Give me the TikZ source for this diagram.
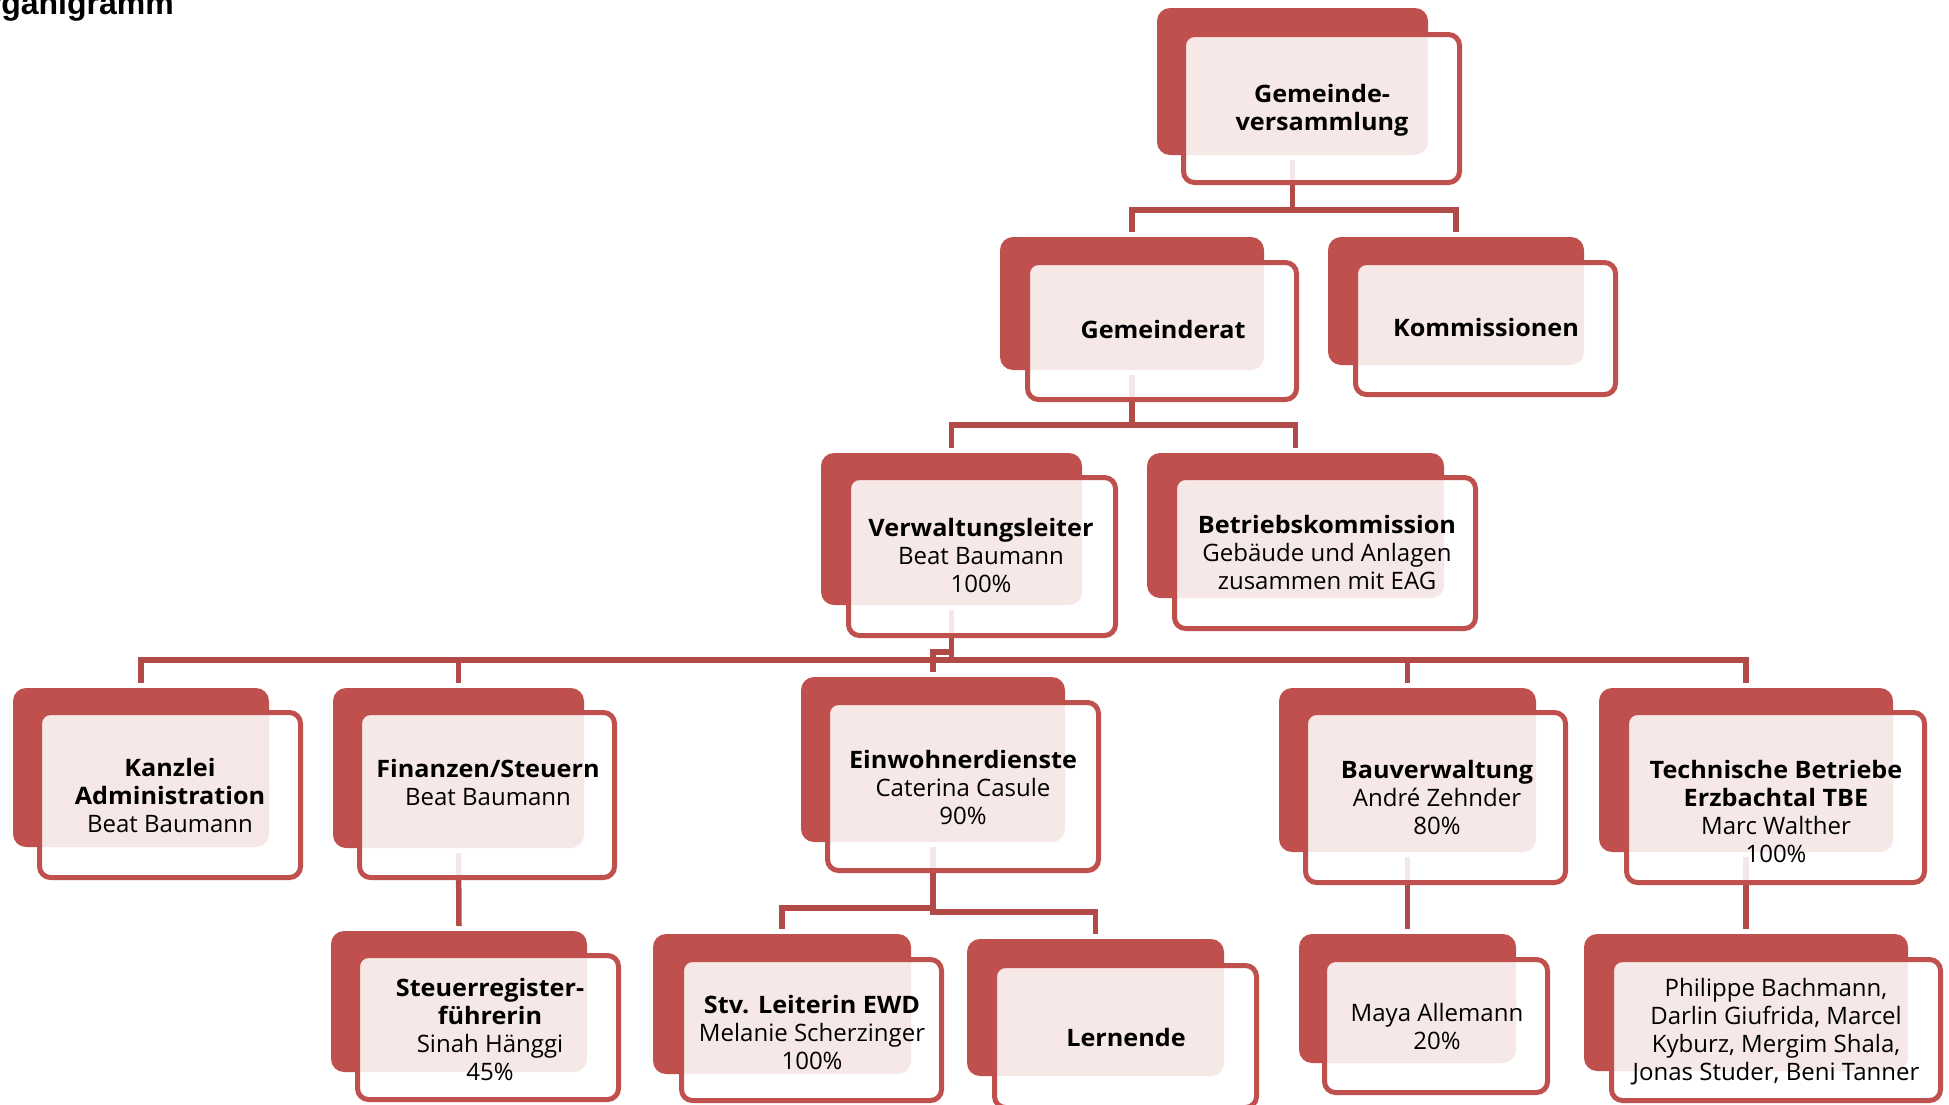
\documentclass[tikz,border=0pt]{standalone}
\usepackage{fontspec}
\setmainfont{Open Sans}[BoldFeatures={FakeStretch=1.05}]
\newfontfamily\titlefont{Liberation Sans}
\usetikzlibrary{calc}
\definecolor{boxred}{HTML}{C0504D}
\definecolor{linered}{HTML}{B24B48}
\pgfdeclarelayer{bg}
\pgfsetlayers{bg,main}
\tikzset{
  backbox/.style={rectangle, rounded corners=13pt, fill=boxred, inner sep=0pt, outer sep=0pt},
  frontbox/.style={rectangle, rounded corners=11pt, fill=white, fill opacity=0.87, draw=boxred, draw opacity=1, line width=5pt, inner sep=0pt, outer sep=0pt},
  boxtext/.style={align=center, inner sep=0pt, text=black, font=\fontsize{24}{28}\selectfont},
  conn/.style={draw=linered, line width=5.5pt},
}
\def\orgback#1,#2,#3,#4\relax{\pgfmathsetmacro\ocx{(#1+#3)/2}\pgfmathsetmacro\ocy{(#2+#4)/2}\pgfmathsetmacro\ow{#3-#1}\pgfmathsetmacro\oh{#4-#2}}
\def\orgfront#1,#2,#3,#4\relax{\pgfmathsetmacro\fcx{(#1+#3)/2}\pgfmathsetmacro\fcy{(#2+#4)/2}\pgfmathsetmacro\fw{#3-#1-5}\pgfmathsetmacro\fh{#4-#2-5}}
\newcommand\orgunit[5]{%
  \orgback#2\relax
  \orgfront#3\relax
  \node[backbox, minimum width=\ow pt, minimum height=\oh pt] (#1B) at (\ocx,\ocy) {};
  \node[frontbox, minimum width=\fw pt, minimum height=\fh pt] (#1F) at (\fcx,\fcy) {};
  \node[boxtext] (#1T) at (#4) {#5};
}
\begin{document}
\begin{tikzpicture}[x=1pt,y=-1pt]
\useasboundingbox (0,0) rectangle (1949,1104);
\clip (0,0) rectangle (1949,1104);

\node[font=\titlefont\fontsize{32}{38}\bfseries\selectfont, anchor=base east, inner sep=0pt] (title) at (174,14) {Organigramm};

\orgunit{gv}{1157,8,1428,155}{1181,32,1462,185}{1322,110}{\textbf{Gemeinde-}\\\textbf{versammlung}}
\orgunit{gr}{1000,237,1264,370}{1025,260,1299,402}{1163,329}{\textbf{Gemeinderat}}
\orgunit{ko}{1328,237,1584,365}{1353,260,1618,397}{1486,327}{\textbf{Kommissionen}}
\orgunit{vl}{821,453,1082,605}{846,475,1118,638}{981,555}{\textbf{Verwaltungsleiter}\\Beat Baumann\\100\%}
\orgunit{bk}{1147,453,1444,598}{1172,475,1478,631}{1327,552}{\textbf{Betriebskommission}\\Gebäude und Anlagen\\zusammen mit EAG}
\orgunit{ka}{13,688,269,847}{37,710,303,880}{170,795}{\textbf{Kanzlei}\\\textbf{Administration}\\Beat Baumann}
\orgunit{fi}{333,688,584,848}{357,710,617,880}{488,782}{\textbf{Finanzen/Steuern}\\Beat Baumann}
\orgunit{ed}{801,677,1065,842}{825,700,1101,873}{963,787}{\textbf{Einwohnerdienste}\\Caterina Casule\\90\%}
\orgunit{bv}{1279,688,1536,852}{1303,710,1568,885}{1437,797}{\textbf{Bauverwaltung}\\André Zehnder\\80\%}
\orgunit{tb}{1599,688,1893,852}{1624,710,1927,885}{1776,811}{\textbf{Technische Betriebe}\\\textbf{Erzbachtal TBE}\\Marc Walther\\100\%}
\orgunit{st}{331,931,587,1072}{355,953,621,1102}{490,1029}{\textbf{Steuerregister-}\\\textbf{führerin}\\Sinah Hänggi\\45\%}
\orgunit{sv}{653,934,911,1074}{679,957,944,1103}{812,1032}{\textbf{Stv. Leiterin EWD}\\Melanie Scherzinger\\100\%}
\orgunit{le}{967,939,1224,1076}{992,963,1259,1110}{1126,1037}{\textbf{Lernende}}
\orgunit{ma}{1299,934,1516,1063}{1322,957,1550,1095}{1437,1026}{Maya Allemann\\20\%}
\orgunit{tm}{1584,934,1908,1071}{1609,957,1943,1103}{1776,1032}{Philippe Bachmann,\\Darlin Giufrida, Marcel\\Kyburz, Mergim Shala,\\Jonas Studer, Beni Tanner}

\begin{pgfonlayer}{bg}
\draw[conn] ($(gvB.south)+(0,5)$) -- (gvB.south |- 0,210) -| ($(grB.north)+(0,-5)$);
\draw[conn] ($(gvB.south)+(0,5)$) -- (gvB.south |- 0,210) -| ($(koB.north)+(0,-5)$);
\draw[conn] ($(grB.south)+(0,5)$) -- (grB.south |- 0,425) -| ($(vlB.north)+(0,-5)$);
\draw[conn] ($(grB.south)+(0,5)$) -- (grB.south |- 0,425) -| ($(bkB.north)+(0,-5)$);
\draw[conn] ($(vlB.south)+(0,5)$) -- (vlB.south |- 0,660) -| ($(kaB.north)+(0,-5)$);
\draw[conn] ($(vlB.south)+(0,5)$) -- (vlB.south |- 0,660) -| ($(fiB.north)+(0,-5)$);
\draw[conn] ($(vlB.south)+(0,5)$) -- (vlB.south |- 0,652) -| ($(edB.north)+(0,-5)$);
\draw[conn] ($(vlB.south)+(0,5)$) -- (vlB.south |- 0,660) -| ($(bvB.north)+(0,-5)$);
\draw[conn] ($(vlB.south)+(0,5)$) -- (vlB.south |- 0,660) -| ($(tbB.north)+(0,-5)$);
\draw[conn] ($(fiB.south)+(0,5)$) -- ($(stB.north)+(0,-5)$);
\draw[conn] ($(edB.south)+(0,5)$) -- (edB.south |- 0,908) -| ($(svB.north)+(0,-5)$);
\draw[conn] ($(edB.south)+(0,5)$) -- (edB.south |- 0,912) -| ($(leB.north)+(0,-5)$);
\draw[conn] ($(bvB.south)+(0,5)$) -- ($(maB.north)+(0,-5)$);
\draw[conn] ($(tbB.south)+(0,5)$) -- ($(tmB.north)+(0,-5)$);
\end{pgfonlayer}
\end{tikzpicture}
\end{document}
